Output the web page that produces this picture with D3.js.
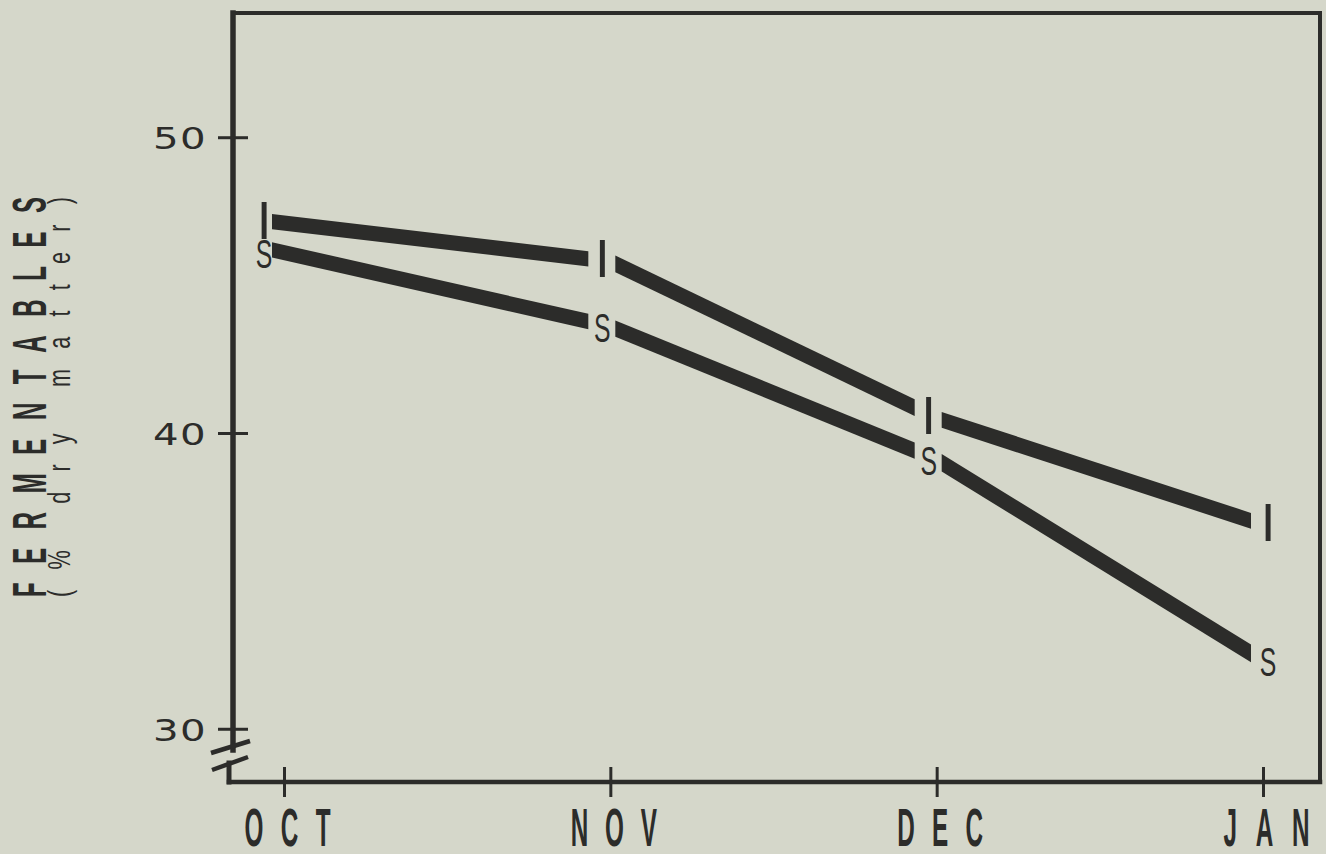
<!DOCTYPE html>
<html>
<head>
<meta charset="utf-8">
<script src="https://cdn.jsdelivr.net/npm/d3@7"></script>
<style>
  html, body { margin: 0; padding: 0; background: #d5d7ca; }
  svg { display: block; }
</style>
</head>
<body>
<script>
// ---- data ----
const months = ["OCT", "NOV", "DEC", "JAN"];
const seriesI = [47.1, 45.8, 40.5, 36.9];
const seriesS = [46.1, 43.6, 39.1, 32.3];
const seriesNames = ["I", "S"];
const yTicks = [30, 40, 50];
const yTitle = "FERMENTABLES";
const ySubTitle = "(% dry matter)";

// ---- layout ----
const W = 1326, H = 854;
const L = 233, T = 13, R = 1320, B = 782;
const ink = "#2c2c2a";
const bg = "#d5d7ca";

const svg = d3.select("body").append("svg").attr("width", W).attr("height", H);
svg.append("rect").attr("width", W).attr("height", H).attr("fill", bg);

const x = d3.scalePoint().domain(months).range([284, 1263]);
const y = d3.scaleLinear().domain([28.2, 54.2]).range([B, T]);

// ---- frame ----
const frame = svg.append("g").attr("stroke", ink).attr("fill", "none").attr("stroke-linecap", "square");
frame.append("line").attr("x1", L).attr("y1", T).attr("x2", R).attr("y2", T).attr("stroke-width", 4);
frame.append("line").attr("x1", R).attr("y1", T).attr("x2", R).attr("y2", B).attr("stroke-width", 4);
frame.append("line").attr("x1", 229).attr("y1", B).attr("x2", R).attr("y2", B).attr("stroke-width", 4.5);
// left axis with break
frame.append("line").attr("x1", L).attr("y1", T).attr("x2", L).attr("y2", 750).attr("stroke-width", 5.5);
frame.append("line").attr("x1", 229).attr("y1", 763).attr("x2", 229).attr("y2", B).attr("stroke-width", 5);
// break slashes
frame.append("line").attr("x1", 211).attr("y1", 753).attr("x2", 250).attr("y2", 741).attr("stroke-width", 4.5).attr("stroke-linecap", "butt");
frame.append("line").attr("x1", 212).attr("y1", 770).attr("x2", 248).attr("y2", 757).attr("stroke-width", 4.5).attr("stroke-linecap", "butt");

// ---- y axis ----
const yAxis = svg.append("g").attr("transform", `translate(${L + 15},0)`)
  .call(d3.axisLeft(y).tickValues(yTicks).tickSize(30).tickFormat(d3.format("d")));
yAxis.select(".domain").remove();
yAxis.selectAll(".tick line").attr("stroke", ink).attr("stroke-width", 3);
yAxis.selectAll(".tick text")
  .attr("x", null).attr("dy", null).attr("y", 11.5)
  .attr("transform", "translate(-41,0) scale(1.3,1)")
  .attr("fill", ink)
  .attr("font-family", "'DejaVu Sans', sans-serif")
  .attr("font-size", 31)
  .attr("letter-spacing", 1)
  .attr("text-anchor", "end");

// ---- x axis ----
const xAxis = svg.append("g").attr("transform", `translate(0,${B - 15})`)
  .call(d3.axisBottom(x).tickSize(30));
xAxis.select(".domain").remove();
xAxis.selectAll(".tick line").attr("stroke", ink).attr("stroke-width", 3);
const xs = 0.45;
xAxis.selectAll(".tick text")
  .attr("y", null).attr("dy", null)
  .attr("transform", `translate(3,79) scale(${xs},1)`)
  .attr("fill", ink)
  .attr("font-family", "'Liberation Sans', Arial, sans-serif")
  .attr("font-weight", "bold")
  .attr("font-size", 54)
  .attr("text-anchor", "middle")
  .attr("lengthAdjust", "spacing")
  .attr("textLength", 86 / xs);

// ---- y title ----
const ts1 = 0.5, ts2 = 0.7;
svg.append("text")
  .attr("transform", `translate(46,397) rotate(-90) scale(${ts1},1)`)
  .attr("text-anchor", "middle")
  .attr("font-family", "'Liberation Sans', Arial, sans-serif")
  .attr("font-weight", "bold")
  .attr("font-size", 48)
  .attr("fill", ink)
  .attr("lengthAdjust", "spacing")
  .attr("textLength", 400 / ts1)
  .text(yTitle);
svg.append("text")
  .attr("transform", `translate(70,397) rotate(-90) scale(${ts2},1)`)
  .attr("text-anchor", "middle")
  .attr("font-family", "'Liberation Sans', Arial, sans-serif")
  .attr("font-size", 31)
  .attr("fill", ink)
  .attr("lengthAdjust", "spacing")
  .attr("textLength", 400 / ts2)
  .text(ySubTitle);

// ---- series: thick broken bands ----
const series = [
  { name: seriesNames[0], values: seriesI },
  { name: seriesNames[1], values: seriesS }
];
const n = months.length;
const lineGen = d3.line();

function segments(vals) {
  const pts = months.map((m, i) => ({ x: x(m), y: y(vals[i]) }));
  const out = [];
  for (let i = 0; i < n - 1; i++) {
    const p = pts[i], q = pts[i + 1];
    const xs0 = i === 0 ? p.x - 12 : p.x + 5;
    const xe0 = (i + 1 === n - 1) ? q.x - 12 : q.x - 22;
    const m = (q.y - p.y) / (q.x - p.x);
    const ys0 = p.y + m * (xs0 - p.x), ye0 = p.y + m * (xe0 - p.x);
    const h = 15 * Math.sqrt(1 + m * m) / 2;
    out.push([[xs0, ys0 - h], [xe0, ye0 - h], [xe0, ye0 + h], [xs0, ys0 + h]]);
  }
  return out;
}

series.forEach(s => {
  svg.append("g").selectAll("path")
    .data(segments(s.values))
    .join("path")
    .attr("d", d => lineGen(d) + "Z")
    .attr("fill", ink);

  // markers
  const g = svg.append("g");
  months.forEach((m, i) => {
    const dx = i === 0 ? -20 : (i === n - 1 ? 5 : -8);
    const cx = x(m) + dx, cy = y(s.values[i]);
    if (s.name === "I") {
      g.append("text")
        .attr("transform", `translate(${cx},${cy + 16})`)
        .attr("text-anchor", "middle")
        .attr("font-family", "'Liberation Sans', Arial, sans-serif")
        .attr("font-size", 53)
        .attr("fill", ink)
        .text(s.name);
    } else {
      g.append("text")
        .attr("transform", `translate(${cx},${cy + 15}) scale(0.62,1)`)
        .attr("text-anchor", "middle")
        .attr("font-family", "'Liberation Sans', Arial, sans-serif")
        .attr("font-size", 40)
        .attr("fill", ink)
        .text(s.name);
    }
  });
});
</script>
</body>
</html>
